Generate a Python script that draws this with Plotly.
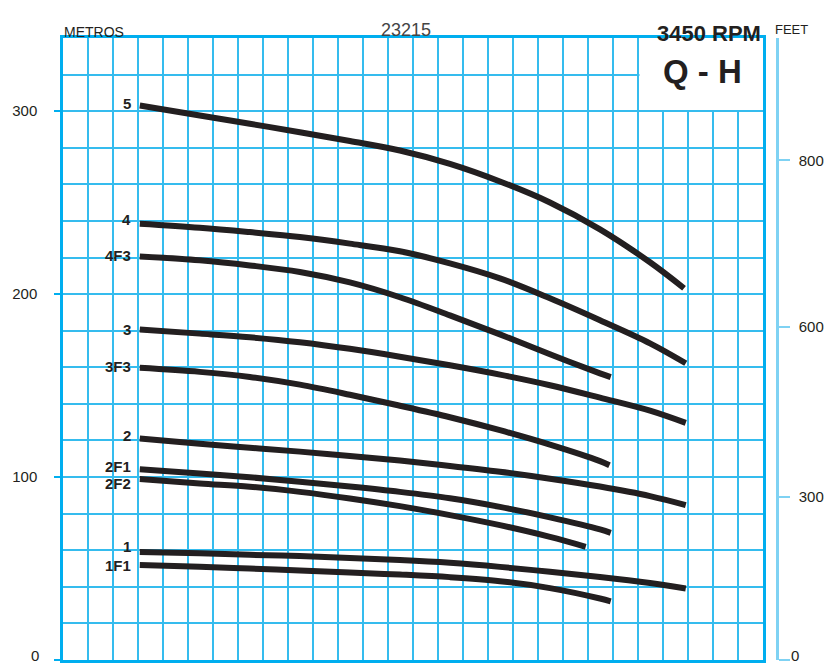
import plotly.graph_objects as go

# ---- data (flow in chart grid units, head in metres) ----
curve_names = ["5", "4", "4F3", "3", "3F3", "2", "2F1", "2F2", "1", "1F1"]

q_full = [3.07, 5.47, 7.47, 9.47, 11.47, 13.47, 15.47, 17.47, 19.47, 21.47, 23.47, 24.9]
q_5 = [3.07, 5.47, 7.47, 9.47, 11.47, 13.47, 15.47, 17.47, 19.47, 21.47, 23.47, 24.83]
q_f3 = [3.07, 5.47, 7.47, 9.47, 11.47, 13.47, 15.47, 17.47, 19.47, 21.47, 21.9]
q_3f3 = [3.07, 5.47, 7.47, 9.47, 11.47, 13.47, 15.47, 17.47, 19.47, 21.47, 21.85]
q_2f2 = [3.07, 5.47, 7.47, 9.47, 11.47, 13.47, 15.47, 17.47, 19.47, 20.9]

h_5 = [303.1, 297.6, 293.1, 288.5, 283.7, 278.5, 271.2, 261.6, 250.1, 235.4, 217.4, 203.2]
h_4 = [238.5, 236.3, 233.9, 231.2, 227.6, 223.4, 216.8, 208.6, 197.7, 185.7, 173.1, 162.2]
h_4f3 = [220.6, 218.5, 215.7, 212.1, 206.4, 198.3, 188.4, 178.0, 167.1, 156.7, 154.6]
h_3 = [180.6, 178.4, 176.4, 173.7, 170.1, 165.8, 161.1, 156.0, 150.2, 143.4, 136.3, 129.6]
h_3f3 = [159.7, 157.5, 154.7, 150.5, 145.0, 139.0, 132.7, 125.6, 117.7, 108.7, 106.5]
h_2 = [121.1, 118.2, 116.0, 113.9, 111.5, 109.0, 106.1, 102.9, 99.1, 94.8, 89.6, 84.7]
h_2f1 = [104.3, 102.0, 99.9, 97.4, 94.8, 91.9, 88.4, 83.7, 78.0, 71.4, 69.5]
h_2f2 = [98.9, 96.5, 94.7, 91.9, 88.3, 84.1, 79.2, 73.7, 67.3, 61.9]
h_1 = [59.1, 58.3, 57.5, 56.8, 55.7, 54.6, 53.1, 50.9, 48.2, 45.4, 42.1, 39.1]
h_1f1 = [51.9, 51.0, 50.0, 48.9, 47.8, 46.7, 45.3, 43.1, 39.3, 33.6, 32.0]

curve_q = [q_5, q_full, q_f3, q_full, q_3f3, q_full, q_f3, q_2f2, q_full, q_f3]
curve_h = [h_5, h_4, h_4f3, h_3, h_3f3, h_2, h_2f1, h_2f2, h_1, h_1f1]
label_yshift = [2, 4, 1, 0, 1, 3, 3, -4, 5, 0]

left_ticks = [0, 100, 200, 300]
left_tick_text = ["", "100", "200", "300"]        # "0" drawn separately at the bottom edge
feet_tick_pos = [0, 89.2, 181.9, 273.1]           # positions (in metres) as printed on the chart
feet_tick_text = ["", "300", "600", "800"]
zero_label = "0"

Q_RANGE = [0, 28]
H_RANGE = [0, 340]

GRID = "#35bcee"
BORDER = "#00aeef"
RIGHT_AX = "#7fd2f3"
INK = "#231f20"
FONT = "Liberation Sans, Arial, sans-serif"

# page body has an 8px margin; lay out in figure coordinates
OFF = 8
W, H = 840 - OFF, 665 - OFF
ML, MR, MT, MB = 55, 40, 30, 5
pw = W - ML - MR
ph = H - MT - MB


def px(xp):
    return (xp - OFF - ML) / pw


def py(yp):
    return (H - MB - (yp - OFF)) / ph


fig = go.Figure()
for name, q, h, ys in zip(curve_names, curve_q, curve_h, label_yshift):
    fig.add_trace(go.Scatter(
        x=q, y=h, mode="lines", name=name,
        line=dict(color=INK, width=6, shape="spline", smoothing=1.0),
        showlegend=False, hoverinfo="skip",
    ))
    fig.add_annotation(
        x=q[0], y=h[0], text="<b>%s</b>" % name, showarrow=False,
        xanchor="right", yanchor="middle", xshift=-7, yshift=ys,
        font=dict(family=FONT, size=15, color=INK),
    )

# carrier for the feet axis (no visible marks)
fig.add_trace(go.Scatter(x=[None], y=[None], yaxis="y2", mode="lines",
                         showlegend=False, hoverinfo="skip"))

# white box behind "Q - H"
fig.add_shape(type="rect", xref="x", yref="y", x0=23.05, x1=28, y0=300.6, y1=340,
              fillcolor="white", line=dict(width=0), layer="between")
fig.add_annotation(x=25.56, y=321.8, xref="x", yref="y", text="<b>Q - H</b>",
                   showarrow=False, font=dict(family=FONT, size=33, color=INK))

fig.add_annotation(xref="paper", yref="paper", x=px(61.5), y=py(22), text="METROS",
                   showarrow=False, font=dict(family=FONT, size=14, color=INK))
fig.add_annotation(xref="paper", yref="paper", x=px(406), y=py(18), text="23215",
                   showarrow=False, font=dict(family=FONT, size=18, color="#444444"))
fig.add_annotation(xref="paper", yref="paper", x=px(763), y=py(19), xanchor="right",
                   text="<b>3450 RPM</b>", showarrow=False,
                   font=dict(family=FONT, size=22, color=INK))
fig.add_annotation(xref="paper", yref="paper", x=px(809.5), y=py(20), text="FEET",
                   showarrow=False, font=dict(family=FONT, size=13, color=INK))
# the two "0" labels, sitting on the bottom edge of the page
for xc in (29.5, 799.5):
    fig.add_annotation(xref="paper", yref="paper", x=px(xc), y=py(665), yanchor="bottom",
                       text=zero_label, showarrow=False, borderpad=0,
                       font=dict(family=FONT, size=15, color=INK))

fig.update_layout(
    width=W, height=H,
    margin=dict(l=ML, r=MR, t=MT, b=MB, pad=0, autoexpand=False),
    paper_bgcolor="white", plot_bgcolor="white",
    xaxis=dict(
        range=Q_RANGE, domain=[0, (763.3 - OFF - ML) / pw], automargin=False,
        dtick=1, tick0=0, showticklabels=False, ticks="",
        showgrid=True, gridcolor=GRID, gridwidth=1.5, zeroline=False,
        showline=True, mirror=True, linecolor=BORDER, linewidth=2.5,
    ),
    yaxis=dict(
        range=H_RANGE, tickvals=left_ticks, ticktext=left_tick_text,
        ticks="outside", ticklen=6, automargin=False,
        tickcolor=BORDER, tickwidth=1.5, ticklabelstandoff=14,
        tickfont=dict(family=FONT, size=15, color=INK),
        showgrid=True, gridcolor=GRID, gridwidth=1.5, zeroline=False,
        showline=True, mirror=True, linecolor=BORDER, linewidth=2.5,
        minor=dict(dtick=20, tick0=0, showgrid=True, gridcolor=GRID, gridwidth=1.5, ticks=""),
    ),
    yaxis2=dict(
        range=H_RANGE, overlaying="y", anchor="free", side="right",
        position=(777 - OFF - ML) / pw, automargin=False,
        tickvals=feet_tick_pos, ticktext=feet_tick_text,
        ticks="outside", ticklen=11, tickcolor=RIGHT_AX, tickwidth=2,
        ticklabelstandoff=6,
        tickfont=dict(family=FONT, size=15, color=INK),
        showgrid=False, zeroline=False,
        showline=True, linecolor=RIGHT_AX, linewidth=2.5,
    ),
)

fig.write_html("out.html")
